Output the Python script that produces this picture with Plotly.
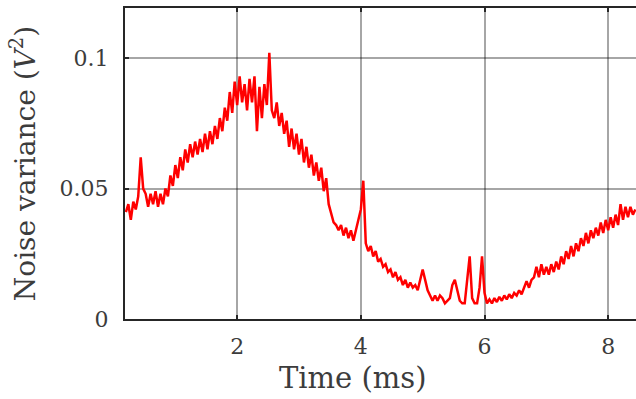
import numpy as np
import plotly.graph_objects as go

# sampled noise variance (V^2), one sample every 0.04 ms starting at 0.20 ms
t_start = 0.20
t_step = 0.04
variance = [
    0.041, 0.044, 0.038, 0.045, 0.042, 0.047, 0.062, 0.050, 0.048, 0.043,
    0.048, 0.044, 0.049, 0.043, 0.048, 0.044, 0.050, 0.047, 0.055, 0.051,
    0.059, 0.054, 0.062, 0.057, 0.065, 0.060, 0.067, 0.062, 0.068, 0.063,
    0.069, 0.064, 0.071, 0.065, 0.072, 0.067, 0.074, 0.069, 0.077, 0.072,
    0.081, 0.076, 0.087, 0.079, 0.091, 0.082, 0.093, 0.083, 0.090, 0.080,
    0.092, 0.083, 0.093, 0.072, 0.089, 0.077, 0.090, 0.082, 0.102, 0.080,
    0.077, 0.083, 0.074, 0.079, 0.071, 0.076, 0.066, 0.073, 0.065, 0.071,
    0.063, 0.069, 0.060, 0.066, 0.058, 0.063, 0.055, 0.060, 0.053, 0.058,
    0.049, 0.054, 0.044, 0.040, 0.037, 0.036, 0.034, 0.036, 0.032, 0.035,
    0.031, 0.034, 0.030, 0.034, 0.038, 0.042, 0.053, 0.029, 0.026, 0.028,
    0.024, 0.026, 0.022, 0.023, 0.020, 0.021, 0.018, 0.019, 0.016, 0.018,
    0.015, 0.016, 0.013, 0.015, 0.012, 0.014, 0.012, 0.013, 0.011, 0.015,
    0.019, 0.015, 0.011, 0.009, 0.007, 0.009, 0.007, 0.009, 0.008, 0.006,
    0.007, 0.008, 0.013, 0.015, 0.011, 0.007, 0.006, 0.006, 0.015, 0.024,
    0.008, 0.006, 0.006, 0.012, 0.024, 0.010, 0.006, 0.0075, 0.006, 0.008,
    0.0065, 0.0085, 0.007, 0.009, 0.0075, 0.0095, 0.008, 0.010, 0.009, 0.011,
    0.0095, 0.012, 0.0145, 0.012, 0.015, 0.016, 0.020, 0.016, 0.021, 0.017,
    0.020, 0.017, 0.021, 0.018, 0.022, 0.019, 0.024, 0.021, 0.026, 0.023,
    0.028, 0.024, 0.029, 0.026, 0.031, 0.028, 0.033, 0.029, 0.034, 0.031,
    0.035, 0.032, 0.037, 0.033, 0.038, 0.034, 0.039, 0.035, 0.040, 0.036,
    0.044, 0.038, 0.043, 0.039, 0.043, 0.040, 0.042,
]
time_ms = np.round(t_start + t_step * np.arange(len(variance)), 3)

x_ticks = [2, 4, 6, 8]
y_ticks = [0, 0.05, 0.1]
y_tick_labels = ["0", "0.05", "0.1"]

FONT = "DejaVu Serif"
AX = "#262626"
GRID = "rgba(0,0,0,0.35)"
TXT = "#3c3c3c"

fig = go.Figure()
fig.add_trace(go.Scatter(x=time_ms, y=variance, mode="lines",
                         line=dict(color="#ff0000", width=2.5),
                         showlegend=False))

fig.update_layout(
    width=636, height=399,
    margin=dict(l=125, r=0, t=8, b=80),
    paper_bgcolor="white", plot_bgcolor="white",
    font=dict(family=FONT, size=22, color=TXT),
    annotations=[dict(text="Time (ms)", xref="paper", yref="paper",
                      x=0.446, y=0, xanchor="center", yanchor="top", yshift=-40,
                      showarrow=False, font=dict(size=29, color=TXT))],
)
fig.update_xaxes(
    range=[0.186, 8.45], tickvals=x_ticks, ticks="inside", ticklen=4, tickwidth=2,
    tickcolor=AX, showline=True, linecolor=AX, linewidth=2, mirror="ticks",
    showgrid=True, gridcolor=GRID, gridwidth=2, zeroline=False,
    ticklabelstandoff=7,
)
fig.update_yaxes(
    range=[0, 0.1192], tickvals=y_ticks, ticktext=y_tick_labels, ticks="inside",
    ticklen=4, tickwidth=2, tickcolor=AX, showline=True, linecolor=AX, linewidth=2,
    showgrid=True, gridcolor=GRID, gridwidth=2, zeroline=False,
    ticklabelstandoff=10,
    title=dict(text="Noise variance (<i>V</i><sup>2</sup>)", font=dict(size=28), standoff=16),
)

fig.write_html("out.html")
